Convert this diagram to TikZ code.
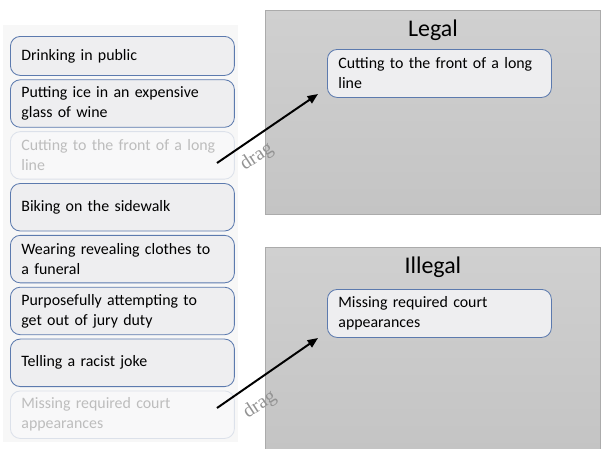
\documentclass[tikz,border=0pt]{standalone}
\usepackage{fontspec}
\setmainfont{Carlito}
\newfontfamily\dragfont{Liberation Serif}
\usetikzlibrary{arrows.meta,positioning,calc}

\definecolor{itemfill}{HTML}{EEEEF0}
\definecolor{itemline}{HTML}{5C7AAE}
\definecolor{ghostfill}{HTML}{F8F8F9}
\definecolor{ghostline}{HTML}{DCE1EA}
\definecolor{ghosttext}{HTML}{BDBDBD}
\definecolor{listbg}{HTML}{F7F7F7}
\definecolor{paneltop}{HTML}{D0D0D0}
\definecolor{panelbot}{HTML}{C4C4C4}
\definecolor{panelline}{HTML}{ABABAB}

\begin{document}
\begin{tikzpicture}[
  x=0.025cm, y=-0.025cm,
  node distance=0.0875cm,
  item/.style={draw=itemline, fill=itemfill, rounded corners=7pt, line width=0.6pt,
    align=left, text width=5.05cm, inner xsep=7.8pt, minimum height=1.1875cm,
    font=\fontsize{11.3}{14.2}\selectfont},
  ghost/.style={item, draw=ghostline, fill=ghostfill, text=ghosttext},
  panel/.style={draw=panelline, line width=0.5pt, top color=paneltop, bottom color=panelbot,
    minimum width=8.375cm, inner sep=0pt},
  heading/.style={font=\fontsize{17}{20}\selectfont, inner sep=0pt},
  draglbl/.style={font=\dragfont\fontsize{14}{16}\selectfont, text=gray!85, inner sep=0pt, rotate=33},
  arr/.style={-{Triangle[length=2.6mm, width=2.1mm]}, line width=1.4pt}
]
  \useasboundingbox (0,0) rectangle (602,448);

  % list of behaviours
  \fill[listbg] (3,25) rectangle (238,442);
  \node[item, anchor=north west, minimum height=0.975cm] (drink) at (10,36) {Drinking in public};
  \node[item, below=of drink] (ice) {Putting ice in an expensive\\glass of wine};
  \node[ghost, below=of ice] (cut) {Cutting to the front of a long\\line};
  \node[item, below=of cut] (bike) {Biking on the sidewalk};
  \node[item, below=of bike] (clothes) {Wearing revealing clothes to\\a funeral};
  \node[item, below=of clothes] (jury) {Purposefully attempting to\\get out of jury duty};
  \node[item, below=of jury] (joke) {Telling a racist joke};
  \node[ghost, below=of joke] (court) {Missing required court\\appearances};

  % target areas
  \node[panel, anchor=north west, minimum height=5.1cm] (legal) at (265,10) {};
  \node[heading] (legalhead) at ($(legal.north)+(0,20)$) {Legal};
  \node[item, anchor=north west, minimum height=1.2cm] (legalcut) at (327,49) {Cutting to the front of a long\\line};

  \node[panel, anchor=north west, minimum height=5.1cm] (illegal) at (265,247) {};
  \node[heading] (illegalhead) at ($(illegal.north)+(0,20)$) {Illegal};
  \node[item, anchor=north west, minimum height=1.2cm] (illegalcourt) at (327,289) {Missing required court\\appearances};

  % drag arrows
  \coordinate (from1) at (217,163);
  \coordinate (to1) at (318,94);
  \coordinate (from2) at (217,408);
  \coordinate (to2) at (318,338);
  \draw[arr] (from1) -- (to1);
  \draw[arr] (from2) -- (to2);
  \node[draglbl] (drag1) at (257,157) {drag};
  \node[draglbl] (drag2) at (260,405) {drag};
\end{tikzpicture}
\end{document}
